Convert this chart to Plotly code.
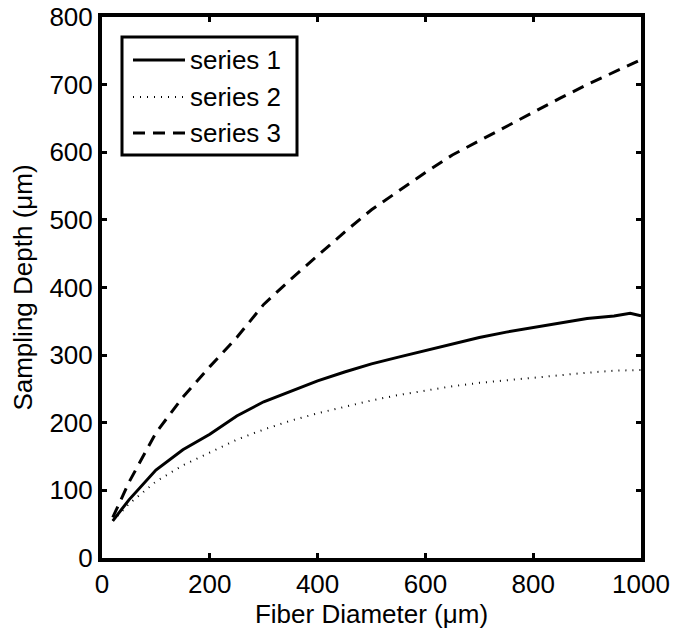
import plotly.graph_objects as go

# ---- data ----
fiber_diameter = [20, 50, 100, 150, 200, 250, 300, 350, 400, 450, 500, 550,
                  600, 650, 700, 750, 800, 850, 900, 950, 980, 1000]
series_1 = [55, 86, 130, 160, 183, 210, 231, 247, 262, 275, 287, 297,
            307, 317, 326, 334, 341, 348, 354, 358, 362, 358]
series_2 = [55, 80, 113, 137, 156, 175, 190, 203, 214, 224, 233, 241,
            248, 254, 259, 263, 267, 271, 274, 277, 278, 278]
series_3 = [60, 112, 185, 238, 283, 326, 375, 412, 447, 482, 515, 543,
            570, 596, 617, 638, 660, 680, 700, 718, 730, 737]
series_names = ["series 1", "series 2", "series 3"]
x_ticks = [0, 200, 400, 600, 800, 1000]
y_ticks = [0, 100, 200, 300, 400, 500, 600, 700, 800]

FONT = "Liberation Sans, Arial, Helvetica, sans-serif"
FS = 26

styles = [
    dict(color="black", width=3, dash="solid"),
    dict(color="black", width=2, dash="1px,6px"),
    dict(color="black", width=3, dash="12px,8px"),
]

fig = go.Figure()
for name, ys, st in zip(series_names, [series_1, series_2, series_3], styles):
    fig.add_trace(go.Scatter(x=fiber_diameter, y=ys, mode="lines", name=name,
                             line=st, showlegend=False))

W, H = 675, 629
L, R, T, B = 102, 34, 17, 71
PW, PH = W - L - R, H - T - B


def px(x):
    return (x - L) / PW


def py(y):
    return (H - B - y) / PH


# manual legend box (MATLAB style)
fig.add_shape(type="rect", xref="paper", yref="paper",
              x0=px(122), x1=px(297), y0=py(155), y1=py(37),
              line=dict(color="black", width=3), fillcolor="white", layer="above")
rows = [60, 97, 133]
for name, st, ry in zip(series_names, styles, rows):
    fig.add_shape(type="line", xref="paper", yref="paper",
                  x0=px(133), x1=px(185), y0=py(ry), y1=py(ry),
                  line=st, layer="above")
    fig.add_annotation(xref="paper", yref="paper", x=px(188), y=py(ry),
                       text=name, showarrow=False, xanchor="left", yanchor="middle",
                       font=dict(family=FONT, size=FS, color="black"))

axis_common = dict(showline=True, linewidth=4, linecolor="black", mirror="ticks",
                   ticks="inside", ticklen=5, tickwidth=2.5, tickcolor="black",
                   showgrid=False, zeroline=False,
                   tickfont=dict(family=FONT, size=FS, color="black"))

fig.update_xaxes(range=[0, 1000], tickvals=x_ticks,
                 title=dict(text="Fiber Diameter (μm)", standoff=2,
                            font=dict(family=FONT, size=FS, color="black")),
                 **axis_common)
fig.update_yaxes(range=[0, 800], tickvals=y_ticks,
                 title=dict(text="Sampling Depth (μm)", standoff=10,
                            font=dict(family=FONT, size=FS, color="black")),
                 **axis_common)

fig.update_layout(width=W, height=H, margin=dict(l=L, r=R, t=T, b=B, autoexpand=False),
                  plot_bgcolor="white", paper_bgcolor="white",
                  font=dict(family=FONT, size=FS, color="black"))

fig.write_html("out.html")
